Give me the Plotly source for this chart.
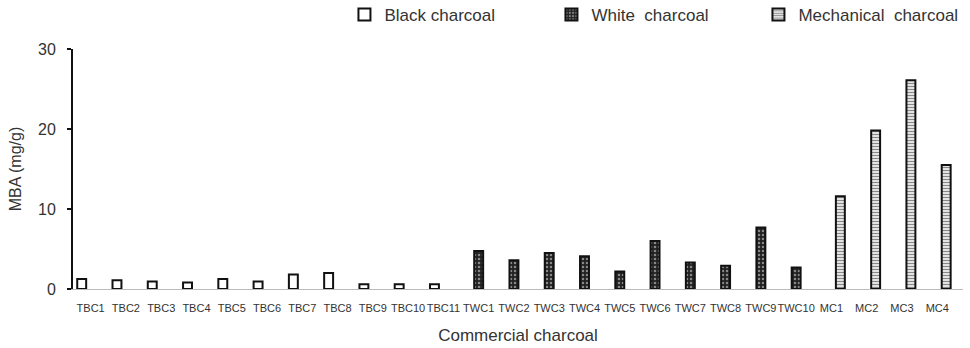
import plotly.graph_objects as go

# Sample names grouped by charcoal type
black_names = ["TBC1", "TBC2", "TBC3", "TBC4", "TBC5", "TBC6", "TBC7", "TBC8", "TBC9", "TBC10", "TBC11"]
white_names = ["TWC1", "TWC2", "TWC3", "TWC4", "TWC5", "TWC6", "TWC7", "TWC8", "TWC9", "TWC10"]
mech_names = ["MC1", "MC2", "MC3", "MC4"]

# Methylene blue adsorption (mg/g)
black_mba = [1.25, 1.1, 0.95, 0.8, 1.25, 0.95, 1.8, 2.0, 0.6, 0.6, 0.6]
white_mba = [4.75, 3.6, 4.5, 4.1, 2.2, 6.0, 3.3, 2.9, 7.7, 2.7]
mech_mba = [11.6, 19.8, 26.1, 15.5]

y_ticks = [0, 10, 20, 30]

categories = black_names + white_names + mech_names


def spread(names, values):
    lookup = dict(zip(names, values))
    return [lookup.get(c) for c in categories]


FONT = "Liberation Sans, Arial, sans-serif"
NARROW = "Liberation Sans Narrow, Liberation Sans, Arial, sans-serif"
INK = "#333"

fig = go.Figure()
fig.add_trace(go.Bar(
    x=categories, y=spread(black_names, black_mba), name="Black charcoal",
    marker=dict(color="white", line=dict(color="#111", width=2)),
))
fig.add_trace(go.Bar(
    x=categories, y=spread(white_names, white_mba), name="White\u00a0 charcoal",
    marker=dict(color="#222", line=dict(color="#111", width=2),
                pattern=dict(shape=".", fgcolor="#eee", bgcolor="#222", size=4, solidity=0.3)),
))
fig.add_trace(go.Bar(
    x=categories, y=spread(mech_names, mech_mba), name="Mechanical\u00a0 charcoal",
    marker=dict(color="white", line=dict(color="#111", width=2),
                pattern=dict(shape="-", fgcolor="#111", bgcolor="white", size=3, solidity=0.5)),
))

fig.update_layout(
    width=970, height=348,
    margin=dict(l=73, r=7, t=49, b=59, autoexpand=False),
    paper_bgcolor="white", plot_bgcolor="white",
    barmode="group", bargap=0.24, bargroupgap=0,
    font=dict(family=FONT, color=INK, size=16),
    showlegend=True,
    legend=dict(orientation="h", x=0.305, xanchor="left", y=1.142, yanchor="middle",
                font=dict(size=17, color=INK), entrywidth=162, traceorder="normal"),
    xaxis=dict(
        title=dict(text="Commercial charcoal", font=dict(size=17), standoff=15),
        tickfont=dict(size=11, color=INK, family=NARROW), ticklabelstandoff=9,
        tickangle=0,
        showline=True, linecolor="#bbb", linewidth=1,
        showgrid=False, ticks="", range=[-0.5, len(categories) - 0.27],
    ),
    yaxis=dict(
        title=dict(text="MBA (mg/g)", font=dict(size=16), standoff=12),
        range=[0, 30], tickvals=y_ticks,
        tickfont=dict(size=16, color=INK), ticklabelstandoff=8,
        showline=True, linecolor="#111", linewidth=2,
        ticks="outside", ticklen=4, tickcolor="#111", tickwidth=2,
        showgrid=False, zeroline=False,
    ),
)

fig.write_html("out.html")
